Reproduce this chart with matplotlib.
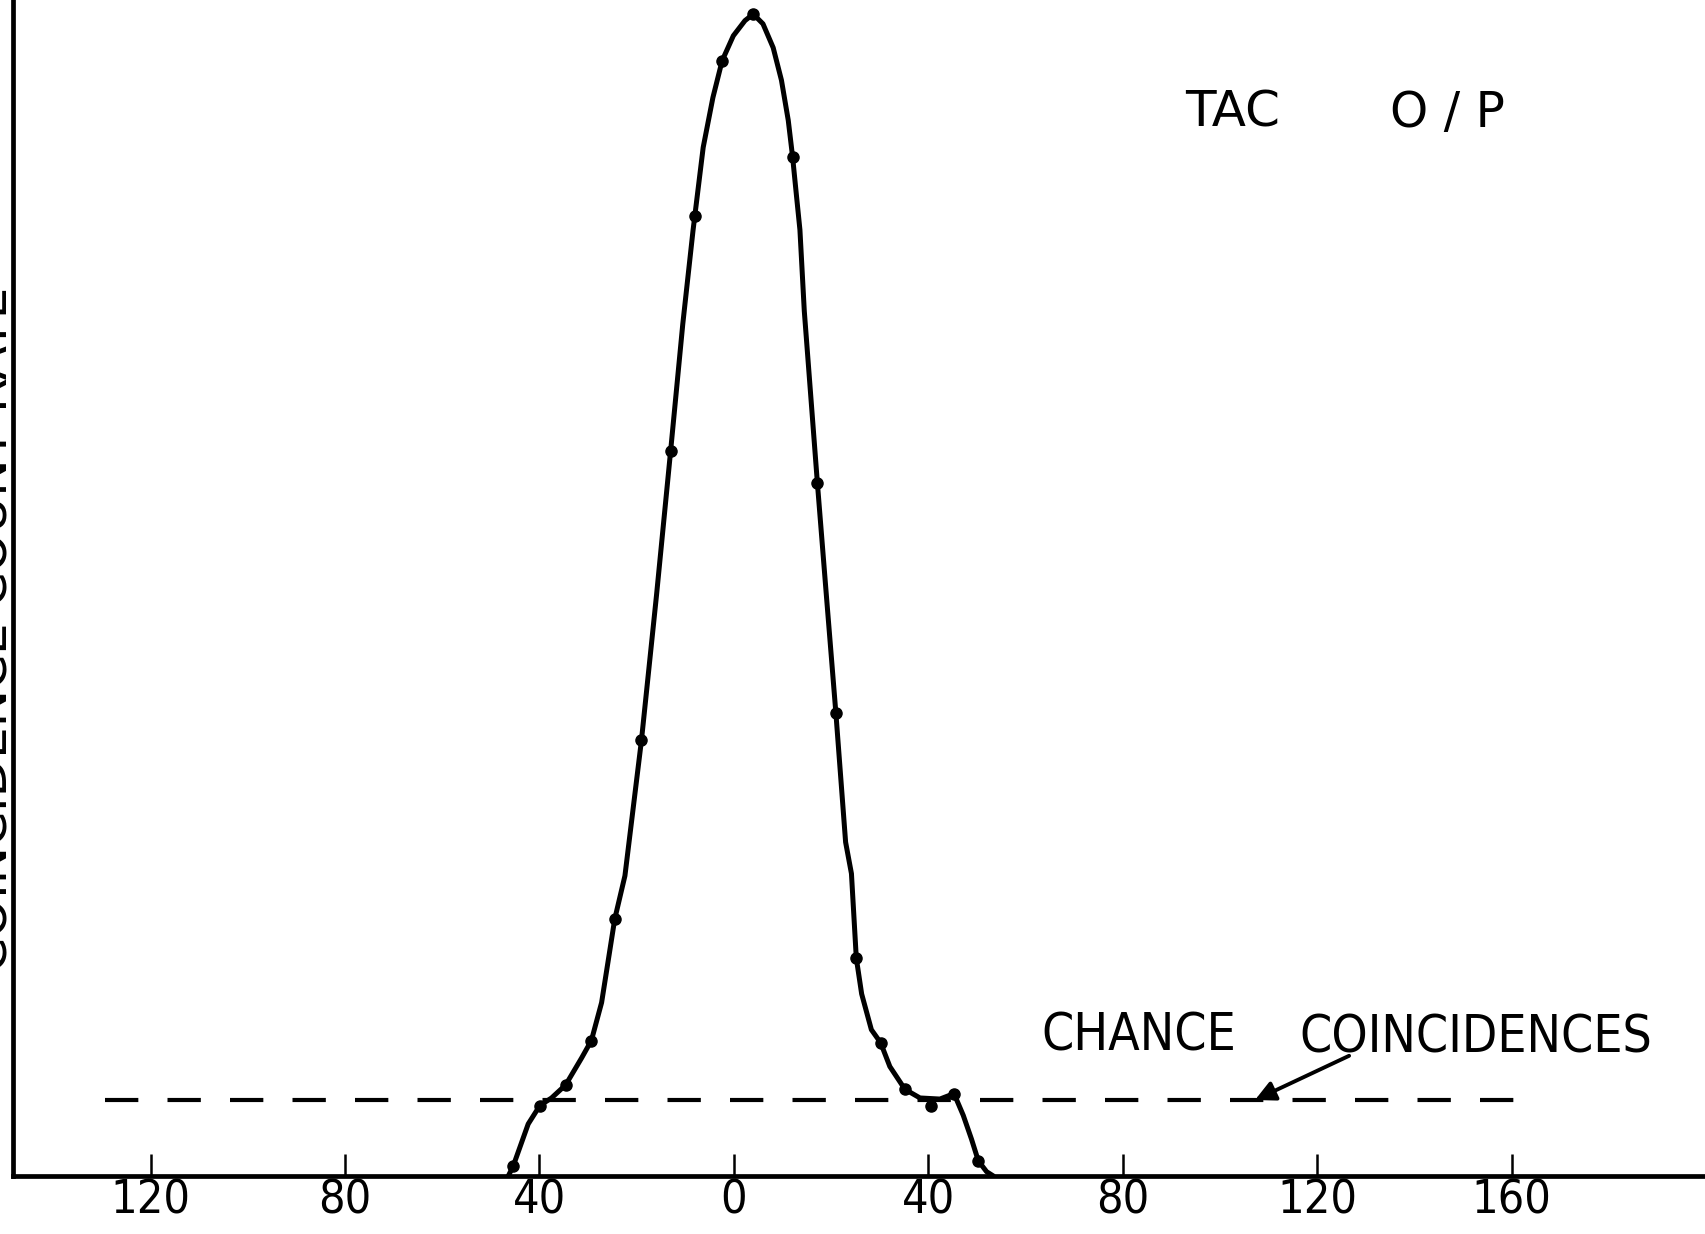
import matplotlib.pyplot as plt
from matplotlib import font_manager

# Measured points (channel offset, coincidence count rate in arbitrary units)
point_x = [-45.4, -39.9, -34.6, -29.3, -24.5, -19.0, -13.0, -8.0, -2.4, 4.0,
           12.1, 17.2, 21.0, 25.2, 30.2, 35.2, 40.5, 45.3, 50.3]
point_y = [9, 65, 84, 125, 237, 402, 669, 886, 1029, 1072,
           940, 639, 427, 201, 123, 80, 65, 76, 14]

# Hand drawn curve through the points
curve_x = [-46.4, -45.4, -42.3, -39.9, -37.5, -34.6, -31.3, -29.3, -27.2, -25.9,
           -24.5, -22.4, -19.0, -15.9, -13.0, -10.5, -8.4, -6.3, -4.3, -2.4,
           -0.1, 2.3, 4.0, 6.0, 8.1, 9.8, 11.2, 12.1, 12.9, 13.6,
           14.5, 17.2, 19.0, 21.0, 23.0, 24.2, 25.2, 26.3, 28.3, 30.2,
           32.1, 35.2, 38.3, 42.4, 45.3, 47.2, 48.9, 50.3, 52.0, 53.4]
curve_y = [0, 9, 48, 65, 72, 84, 109, 125, 160, 197,
           237, 277, 402, 536, 669, 786, 872, 949, 995, 1029,
           1052, 1066, 1072, 1063, 1041, 1011, 974, 940, 904, 873,
           798, 639, 538, 427, 308, 279, 201, 168, 135, 123,
           101, 80, 72, 71, 76, 56, 34, 14, 4, 0]

# Chance coincidence level (dashed line)
chance_level = 70
chance_x = [-129.3, 166.0]

tick_pos = [-120, -80, -40, 0, 40, 80, 120, 160]
tick_labels = ['120', '80', '40', '0', '40', '80', '120', '160']


# hand lettering is narrow, use a condensed face if there is one
def narrow_font():
    for fam, stretch in [('Liberation Sans Narrow', 'normal'),
                         ('DejaVu Sans', 'condensed')]:
        try:
            path = font_manager.findfont(
                font_manager.FontProperties(family=fam, stretch=stretch),
                fallback_to_default=False)
        except ValueError:
            continue
        if 'Narrow' in path or 'Condensed' in path:
            return fam, stretch, True
    return 'DejaVu Sans', 'normal', False


nfam, nstretch, has_narrow = narrow_font()
scale = 1.0 if has_narrow else 0.82

fig = plt.figure(figsize=(17.05, 12.34), dpi=100)
ax = fig.add_axes([0.0076, 0.0470, 0.9924, 0.9530])

ax.plot(curve_x, curve_y, color='black', lw=3.6, solid_capstyle='round',
        solid_joinstyle='round')
ax.plot(point_x, point_y, 'o', color='black', markersize=8)
ax.plot(chance_x, [chance_level, chance_level], color='black', lw=3.0,
        dashes=(8, 7))

# axes look
ax.set_xlim(-148.3, 199.8)
ax.set_ylim(0, 1085)
for side in ['top', 'right']:
    ax.spines[side].set_visible(False)
ax.spines['left'].set_linewidth(3.4)
ax.spines['bottom'].set_linewidth(3.4)
ax.set_yticks([])
ax.set_xticks(tick_pos)
ax.set_xticklabels(tick_labels, family=nfam, stretch=nstretch,
                   fontsize=33.5 * scale)
ax.tick_params(axis='x', direction='in', length=16, width=1.8, pad=2)

# labels
ax.text(102.7, 968, 'TAC', family='DejaVu Sans', fontsize=36,
        ha='center', va='baseline')
ax.text(146.8, 968, 'O / P', family='DejaVu Sans', fontsize=35,
        ha='center', va='baseline')
ax.text(83.4, 116, 'CHANCE', family=nfam, stretch=nstretch,
        fontsize=37 * scale, ha='center', va='baseline')
ax.text(152.6, 114, 'COINCIDENCES', family=nfam, stretch=nstretch,
        fontsize=37 * scale, ha='center', va='baseline')
ax.annotate('', xy=(106.7, 69), xytext=(127.1, 112),
            arrowprops=dict(arrowstyle='-|>', color='black', lw=2.8,
                            mutation_scale=30))

# y label is cut off by the left edge of the scan
fig.text(8 / 1705, 1 - 629 / 1234, 'COINCIDENCE COUNT RATE',
         family='DejaVu Sans', fontsize=36, rotation=90,
         rotation_mode='anchor', ha='center', va='baseline')

plt.savefig('out.png', dpi=100)
